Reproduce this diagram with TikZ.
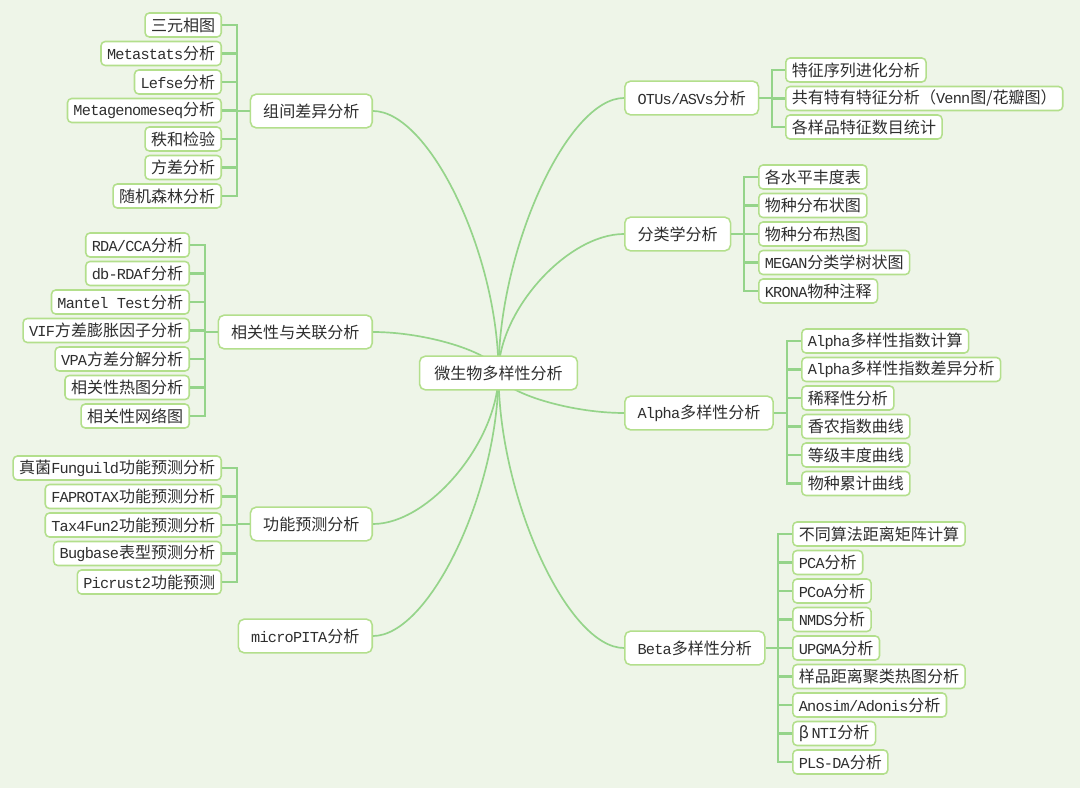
\documentclass[tikz,border=0pt]{standalone}
\usepackage{fontspec}
\setmainfont{Noto Sans CJK SC}
\newfontfamily\enfont{Liberation Mono}[Scale=0.95, LetterSpace=-5]
\definecolor{bgpaper}{HTML}{EEF5E8}
\definecolor{linkgreen}{HTML}{95D48A}
\definecolor{boxgreen}{HTML}{B3DF8C}
\definecolor{inktext}{HTML}{2E2E2E}
\newcommand\en[1]{{\enfont #1}}
\usetikzlibrary{positioning,calc}
\pgfdeclarelayer{paper}
\pgfdeclarelayer{links}
\pgfsetlayers{paper,links,main}

\begin{document}
\begin{tikzpicture}[
  x=0.025cm, y=-0.025cm,
  every node/.style={font=\fontsize{11.4pt}{13pt}\selectfont, text=inktext},
  leaf/.style={draw=boxgreen, line width=1.1pt, fill=white, rounded corners=3pt, minimum height=0.6cm, inner xsep=0.15cm, inner ysep=0pt},
  topic/.style={draw=boxgreen, line width=1.1pt, fill=white, rounded corners=4pt, minimum height=0.84cm, inner xsep=0.32cm, inner ysep=0pt},
  link/.style={draw=linkgreen, line width=1.2pt,
    to path={.. controls ($(\tikztostart)!0.45!(\tikztostart |- \tikztotarget)$)
      and ($(\tikztotarget)!0.45!(\tikztotarget -| \tikztostart)$) .. (\tikztotarget)}},
  bar/.style={draw=linkgreen, line width=1.5pt}
]
  \begin{pgfonlayer}{paper}
    \fill[bgpaper] (0,0) rectangle (1080,788);
  \end{pgfonlayer}
  \useasboundingbox (0,0) rectangle (1080,788);

  \node[topic, inner xsep=0.37cm] (root) at (498.5,373) {微生物多样性分析};

  % left topics
  \node[topic, anchor=east] (zj) at (373,111) {组间差异分析};
  \node[topic, anchor=east] (xg) at (373,332) {相关性与关联分析};
  \node[topic, anchor=east] (gn) at (373,524) {功能预测分析};
  \node[topic, anchor=east] (mp) at (373,636) {\en{microPITA}分析};

  % right topics
  \node[topic, anchor=west] (otu) at (624,98) {\en{OTUs/ASVs}分析};
  \node[topic, anchor=west] (fl) at (624,234) {分类学分析};
  \node[topic, anchor=west] (alpha) at (624,413) {\en{Alpha}多样性分析};
  \node[topic, anchor=west] (beta) at (624,648) {\en{Beta}多样性分析};

  \begin{pgfonlayer}{links}
    \draw[link] (root.center) to (zj.east);
    \draw[link] (root.center) to (xg.east);
    \draw[link] (root.center) to (gn.east);
    \draw[link] (root.center) to (mp.east);
    \draw[link] (root.center) to (otu.west);
    \draw[link] (root.center) to (fl.west);
    \draw[link] (root.center) to (alpha.west);
    \draw[link] (root.center) to (beta.west);
  \end{pgfonlayer}

  % 组间差异分析
  \node[leaf, anchor=east] (zj1) at (222,25) {三元相图};
  \node[leaf, anchor=east] (zj2) at (222,53.5) {\en{Metastats}分析};
  \node[leaf, anchor=east] (zj3) at (222,82) {\en{Lefse}分析};
  \node[leaf, anchor=east] (zj4) at (222,110.5) {\en{Metagenomeseq}分析};
  \node[leaf, anchor=east] (zj5) at (222,139) {秩和检验};
  \node[leaf, anchor=east] (zj6) at (222,167.5) {方差分析};
  \node[leaf, anchor=east] (zj7) at (222,196) {随机森林分析};
  \coordinate (zjbar) at (237,111);
  \draw[bar] (zj.west) -- (zjbar);
  \draw[bar] (zjbar) |- (zj1.east); \draw[bar] (zjbar) |- (zj2.east);
  \draw[bar] (zjbar) |- (zj3.east); \draw[bar] (zjbar) |- (zj4.east);
  \draw[bar] (zjbar) |- (zj5.east); \draw[bar] (zjbar) |- (zj6.east);
  \draw[bar] (zjbar) |- (zj7.east);

  % 相关性与关联分析
  \node[leaf, anchor=east] (xg1) at (190,245) {\en{RDA/CCA}分析};
  \node[leaf, anchor=east] (xg2) at (190,273.5) {\en{db-RDAf}分析};
  \node[leaf, anchor=east] (xg3) at (190,302) {\en{Mantel Test}分析};
  \node[leaf, anchor=east] (xg4) at (190,330.5) {\en{VIF}方差膨胀因子分析};
  \node[leaf, anchor=east] (xg5) at (190,359) {\en{VPA}方差分解分析};
  \node[leaf, anchor=east] (xg6) at (190,387.5) {相关性热图分析};
  \node[leaf, anchor=east] (xg7) at (190,416) {相关性网络图};
  \coordinate (xgbar) at (205,332);
  \draw[bar] (xg.west) -- (xgbar);
  \draw[bar] (xgbar) |- (xg1.east); \draw[bar] (xgbar) |- (xg2.east);
  \draw[bar] (xgbar) |- (xg3.east); \draw[bar] (xgbar) |- (xg4.east);
  \draw[bar] (xgbar) |- (xg5.east); \draw[bar] (xgbar) |- (xg6.east);
  \draw[bar] (xgbar) |- (xg7.east);

  % 功能预测分析
  \node[leaf, anchor=east] (gn1) at (222,468) {真菌\en{Funguild}功能预测分析};
  \node[leaf, anchor=east] (gn2) at (222,496.5) {\en{FAPROTAX}功能预测分析};
  \node[leaf, anchor=east] (gn3) at (222,525) {\en{Tax4Fun2}功能预测分析};
  \node[leaf, anchor=east] (gn4) at (222,553.5) {\en{Bugbase}表型预测分析};
  \node[leaf, anchor=east] (gn5) at (222,582) {\en{Picrust2}功能预测};
  \coordinate (gnbar) at (237,524);
  \draw[bar] (gn.west) -- (gnbar);
  \draw[bar] (gnbar) |- (gn1.east); \draw[bar] (gnbar) |- (gn2.east);
  \draw[bar] (gnbar) |- (gn3.east); \draw[bar] (gnbar) |- (gn4.east);
  \draw[bar] (gnbar) |- (gn5.east);

  % OTUs/ASVs分析
  \node[leaf, anchor=west] (otu1) at (785,70) {特征序列进化分析};
  \node[leaf, anchor=west] (otu2) at (785,98.5) {共有特有特征分析（\en{Venn}图/花瓣图）};
  \node[leaf, anchor=west] (otu3) at (785,127) {各样品特征数目统计};
  \coordinate (otubar) at (772,98);
  \draw[bar] (otu.east) -- (otubar);
  \draw[bar] (otubar) |- (otu1.west); \draw[bar] (otubar) |- (otu2.west);
  \draw[bar] (otubar) |- (otu3.west);

  % 分类学分析
  \node[leaf, anchor=west] (fl1) at (758,177) {各水平丰度表};
  \node[leaf, anchor=west] (fl2) at (758,205.5) {物种分布状图};
  \node[leaf, anchor=west] (fl3) at (758,234) {物种分布热图};
  \node[leaf, anchor=west] (fl4) at (758,262.5) {\en{MEGAN}分类学树状图};
  \node[leaf, anchor=west] (fl5) at (758,291) {\en{KRONA}物种注释};
  \coordinate (flbar) at (744,234);
  \draw[bar] (fl.east) -- (flbar);
  \draw[bar] (flbar) |- (fl1.west); \draw[bar] (flbar) |- (fl2.west);
  \draw[bar] (flbar) |- (fl3.west); \draw[bar] (flbar) |- (fl4.west);
  \draw[bar] (flbar) |- (fl5.west);

  % Alpha多样性分析
  \node[leaf, anchor=west] (al1) at (801,341) {\en{Alpha}多样性指数计算};
  \node[leaf, anchor=west] (al2) at (801,369.5) {\en{Alpha}多样性指数差异分析};
  \node[leaf, anchor=west] (al3) at (801,398) {稀释性分析};
  \node[leaf, anchor=west] (al4) at (801,426.5) {香农指数曲线};
  \node[leaf, anchor=west] (al5) at (801,455) {等级丰度曲线};
  \node[leaf, anchor=west] (al6) at (801,483.5) {物种累计曲线};
  \coordinate (albar) at (787,413);
  \draw[bar] (alpha.east) -- (albar);
  \draw[bar] (albar) |- (al1.west); \draw[bar] (albar) |- (al2.west);
  \draw[bar] (albar) |- (al3.west); \draw[bar] (albar) |- (al4.west);
  \draw[bar] (albar) |- (al5.west); \draw[bar] (albar) |- (al6.west);

  % Beta多样性分析
  \node[leaf, anchor=west] (be1) at (792,534) {不同算法距离矩阵计算};
  \node[leaf, anchor=west] (be2) at (792,562.5) {\en{PCA}分析};
  \node[leaf, anchor=west] (be3) at (792,591) {\en{PCoA}分析};
  \node[leaf, anchor=west] (be4) at (792,619.5) {\en{NMDS}分析};
  \node[leaf, anchor=west] (be5) at (792,648) {\en{UPGMA}分析};
  \node[leaf, anchor=west] (be6) at (792,676.5) {样品距离聚类热图分析};
  \node[leaf, anchor=west] (be7) at (792,705) {\en{Anosim/Adonis}分析};
  \node[leaf, anchor=west] (be8) at (792,733.5) {β\,\en{NTI}分析};
  \node[leaf, anchor=west] (be9) at (792,762) {\en{PLS-DA}分析};
  \coordinate (bebar) at (778,648);
  \draw[bar] (beta.east) -- (bebar);
  \draw[bar] (bebar) |- (be1.west); \draw[bar] (bebar) |- (be2.west);
  \draw[bar] (bebar) |- (be3.west); \draw[bar] (bebar) |- (be4.west);
  \draw[bar] (bebar) |- (be5.west); \draw[bar] (bebar) |- (be6.west);
  \draw[bar] (bebar) |- (be7.west); \draw[bar] (bebar) |- (be8.west);
  \draw[bar] (bebar) |- (be9.west);
\end{tikzpicture}
\end{document}
